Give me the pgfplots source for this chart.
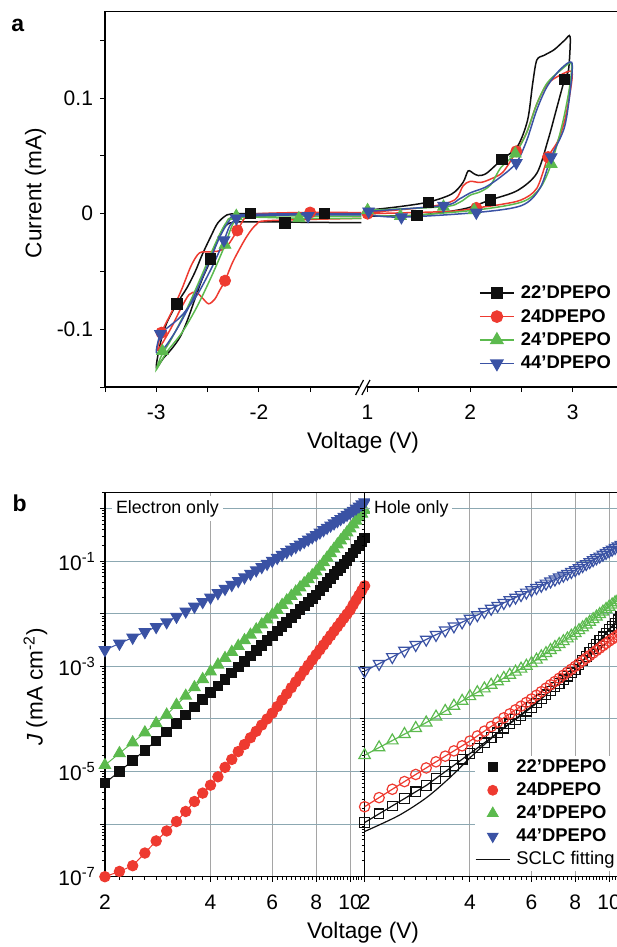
\documentclass[border=0pt]{standalone}
\usepackage{pgfplots}
\pgfplotsset{compat=1.18}
\usepackage{pgfplotstable}
\usepackage{fontspec}
\setmainfont{Liberation Sans}

\definecolor{cblk}{RGB}{15,15,15}
\definecolor{cred}{RGB}{238,58,48}
\definecolor{cgrn}{RGB}{92,186,78}
\definecolor{cblu}{RGB}{58,82,164}
\definecolor{gridx}{RGB}{165,165,165}
\definecolor{gridy}{RGB}{140,168,178}

% J-V data: x = voltage, electron-only (E) and hole-only (H) devices
\pgfplotstableread{
x    BE      RE      GE      BlE     BH      RH      GH      BlH
2.0  6.03e-6 1.00e-7 1.32e-5 2.04e-3 1.07e-6 2.14e-6 2.04e-5 8.13e-4
2.2  1.00e-5 1.26e-7 2.22e-5 2.72e-3 1.57e-6 3.19e-6 2.86e-5 1.12e-3
2.4  1.62e-5 1.62e-7 3.56e-5 3.53e-3 2.22e-6 4.60e-6 3.88e-5 1.51e-3
2.6  2.54e-5 2.82e-7 5.51e-5 4.50e-3 3.06e-6 6.44e-6 5.14e-5 1.99e-3
2.8  3.83e-5 4.79e-7 8.26e-5 5.62e-3 4.12e-6 8.79e-6 6.68e-5 2.56e-3
3.0  5.62e-5 7.41e-7 1.20e-4 6.92e-3 5.42e-6 1.17e-5 8.51e-5 3.24e-3
3.2  8.28e-5 1.12e-6 1.84e-4 8.81e-3 7.41e-6 1.53e-5 1.10e-4 3.98e-3
3.4  1.19e-4 1.74e-6 2.74e-4 1.11e-2 9.95e-6 1.96e-5 1.41e-4 4.83e-3
3.6  1.68e-4 2.69e-6 3.98e-4 1.37e-2 1.31e-5 2.47e-5 1.77e-4 5.79e-3
3.8  2.32e-4 3.89e-6 5.68e-4 1.68e-2 1.71e-5 3.08e-5 2.19e-4 6.90e-3
4.0  3.16e-4 5.50e-6 7.94e-4 2.04e-2 2.19e-5 3.80e-5 2.69e-4 8.13e-3
4.2  4.26e-4 7.94e-6 1.07e-3 2.48e-2 2.79e-5 4.74e-5 3.20e-4 9.44e-3
4.4  5.68e-4 1.20e-5 1.43e-3 2.99e-2 3.52e-5 5.86e-5 3.78e-4 1.09e-2
4.6  7.45e-4 1.70e-5 1.87e-3 3.56e-2 4.40e-5 7.18e-5 4.44e-4 1.25e-2
4.8  9.66e-4 2.40e-5 2.43e-3 4.21e-2 5.43e-5 8.69e-5 5.16e-4 1.42e-2
5.0  1.24e-3 3.27e-5 3.12e-3 4.95e-2 6.67e-5 1.05e-4 5.98e-4 1.61e-2
5.2  1.58e-3 4.39e-5 3.96e-3 5.79e-2 8.11e-5 1.25e-4 6.87e-4 1.82e-2
5.4  1.99e-3 5.82e-5 5.00e-3 6.73e-2 9.79e-5 1.49e-4 7.87e-4 2.04e-2
5.6  2.49e-3 7.66e-5 6.25e-3 7.78e-2 1.17e-4 1.75e-4 8.97e-4 2.28e-2
5.8  3.08e-3 9.98e-5 7.74e-3 8.93e-2 1.40e-4 2.06e-4 1.02e-3 2.54e-2
6.0  3.80e-3 1.29e-4 9.55e-3 0.102   1.66e-4 2.40e-4 1.15e-3 2.82e-2
6.2  4.67e-3 1.72e-4 1.18e-2 0.116   2.00e-4 2.82e-4 1.33e-3 3.11e-2
6.4  5.69e-3 2.29e-4 1.46e-2 0.132   2.40e-4 3.30e-4 1.54e-3 3.43e-2
6.6  6.89e-3 3.00e-4 1.78e-2 0.149   2.87e-4 3.85e-4 1.77e-3 3.77e-2
6.8  8.30e-3 3.92e-4 2.17e-2 0.167   3.41e-4 4.46e-4 2.03e-3 4.12e-2
7.0  9.95e-3 5.06e-4 2.62e-2 0.187   4.04e-4 5.15e-4 2.32e-3 4.50e-2
7.2  1.19e-2 6.50e-4 3.16e-2 0.209   4.74e-4 5.93e-4 2.64e-3 4.91e-2
7.4  1.41e-2 8.30e-4 3.78e-2 0.233   5.56e-4 6.79e-4 2.99e-3 5.33e-2
7.6  1.66e-2 1.05e-3 4.51e-2 0.258   6.47e-4 7.74e-4 3.37e-3 5.78e-2
7.8  1.95e-2 1.32e-3 5.35e-2 0.286   7.53e-4 8.81e-4 3.80e-3 6.25e-2
8.0  2.29e-2 1.66e-3 6.31e-2 0.316   8.71e-4 1.00e-3 4.27e-3 6.76e-2
8.2  2.75e-2 2.06e-3 7.76e-2 0.352   1.06e-3 1.13e-3 4.84e-3 7.41e-2
8.4  3.29e-2 2.55e-3 9.53e-2 0.391   1.28e-3 1.27e-3 5.48e-3 8.11e-2
8.6  3.92e-2 3.13e-3 0.116   0.433   1.53e-3 1.43e-3 6.19e-3 8.85e-2
8.8  4.66e-2 3.83e-3 0.141   0.478   1.84e-3 1.60e-3 6.98e-3 9.64e-2
9.0  5.50e-2 4.66e-3 0.171   0.526   2.19e-3 1.79e-3 7.83e-3 0.105
9.2  6.47e-2 5.65e-3 0.206   0.579   2.61e-3 2.00e-3 8.77e-3 0.114
9.4  7.59e-2 6.82e-3 0.247   0.635   3.08e-3 2.22e-3 9.79e-3 0.123
9.6  8.87e-2 8.22e-3 0.295   0.697   3.64e-3 2.47e-3 1.09e-2 0.133
9.8  0.1035  9.84e-3 0.351   0.762   4.28e-3 2.73e-3 1.22e-2 0.144
10.0 0.120   1.17e-2 0.417   0.832   5.01e-3 3.02e-3 1.35e-2 0.155
10.2 0.143   1.47e-2 0.493   0.914   5.78e-3 3.30e-3 1.49e-2 0.166
10.4 0.169   1.82e-2 0.581   1.005   6.65e-3 3.61e-3 1.64e-2 0.179
10.6 0.200   2.24e-2 0.682   1.102   7.64e-3 3.94e-3 1.81e-2 0.191
10.8 0.235   2.76e-2 0.798   1.205   8.75e-3 4.30e-3 1.99e-2 0.205
11.0 0.275   3.39e-2 0.933   1.318   1.00e-2 4.68e-3 2.19e-2 0.219
}\jvdata

\pgfplotstableread{
x    J
2.0  7.24e-7
2.5  1.45e-6
3.0  3.16e-6
3.5  7.59e-6
4.0  1.82e-5
4.5  3.72e-5
5.0  6.76e-5
6.0  1.74e-4
7.0  4.07e-4
8.0  8.71e-4
9.0  2.14e-3
10.0 5.01e-3
11.0 1.00e-2
}\sclcfit

\pgfplotsset{
  cvline/.style={smooth, tension=0.5, line width=0.75pt, no marks},
  cvmark/.style={only marks, forget plot},
  jvaxis/.style={
    anchor=south west, scale only axis, height=192pt,
    xmin=2, xmax=11, ymin=1e-7, ymax=2,
    xtick={2,4,6,8,10}, xticklabels={2,4,6,8,10},
    minor xtick={2.2,2.4,...,10.8},
    ytick={1e-7,1e-6,1e-5,1e-4,1e-3,1e-2,1e-1,1},
    minor ytick={2e-7,3e-7,4e-7,5e-7,6e-7,7e-7,8e-7,9e-7,
      2e-6,3e-6,4e-6,5e-6,6e-6,7e-6,8e-6,9e-6,
      2e-5,3e-5,4e-5,5e-5,6e-5,7e-5,8e-5,9e-5,
      2e-4,3e-4,4e-4,5e-4,6e-4,7e-4,8e-4,9e-4,
      2e-3,3e-3,4e-3,5e-3,6e-3,7e-3,8e-3,9e-3,
      2e-2,3e-2,4e-2,5e-2,6e-2,7e-2,8e-2,9e-2,
      2e-1,3e-1,4e-1,5e-1,6e-1,7e-1,8e-1,9e-1,2},
    xtick pos=left, ytick pos=left, tick align=outside,
    major tick length=2.5pt, minor tick length=1.5pt,
    xmajorgrids, ymajorgrids,
    x grid style={gridx, line width=0.5pt},
    y grid style={gridy, line width=0.5pt},
    axis line style={line width=0.6pt},
    tick style={line width=0.5pt, black},
    tick label style={font=\fontsize{10.5}{12}\selectfont},
    xticklabel style={yshift=-3pt},
  },
}

\begin{document}
\begin{tikzpicture}
\path[use as bounding box] (0pt,0pt) rectangle (308pt,-473.5pt);

% ---------------- panel a: cyclic voltammetry ----------------
\begin{axis}[
  at={(52.5pt,-193.5pt)}, anchor=south west, scale only axis,
  width=259.5pt, height=187.75pt,
  xmin=-3.5, xmax=1.56, ymin=-0.15, ymax=0.175,
  xtick={-3,-2,-0.94,0.06,1.06}, xticklabels={-3,-2,1,2,3},
  minor xtick={-3.5,-2.5,-1.5,-0.44,0.56},
  ytick={-0.1,0,0.1}, yticklabels={-0.1,0,0.1},
  minor ytick={-0.15,-0.05,0.05,0.15},
  xtick pos=left, ytick pos=left, tick align=outside,
  major tick length=2.5pt, minor tick length=2.5pt,
  axis line style={line width=0.6pt},
  tick style={line width=0.5pt, black},
  tick label style={font=\fontsize{10.5}{12}\selectfont},
  xticklabel style={yshift=-3pt},
  legend cell align=left,
  legend style={at={(axis description cs:0.72,0.282)}, anchor=north west,
    draw=none, fill=none, inner sep=0pt, row sep=0pt, column sep=1.5pt,
    font=\fontsize{9.2}{11}\selectfont\bfseries,
    nodes={inner sep=1.6pt, text height=7pt, text depth=1.5pt}},
]
\addlegendimage{cblk, line width=0.75pt, mark=square*, mark size=2.6pt}
\addlegendentry{22’DPEPO}
\addlegendimage{cred, line width=0.75pt, mark=*, mark size=2.8pt}
\addlegendentry{24DPEPO}
\addlegendimage{cgrn, line width=0.75pt, mark=triangle*, mark size=3.4pt}
\addlegendentry{24’DPEPO}
\addlegendimage{cblu, line width=0.75pt, mark=triangle*, mark size=3.4pt, mark options={rotate=180}}
\addlegendentry{44’DPEPO}

% 22'DPEPO
\addplot[cblk, cvline, forget plot] coordinates {
(-1.0,0.0) (-1.6,0.0) (-2.1,0.0) (-2.22,0.0) (-2.31,-0.001) (-2.40,-0.008)
(-2.47,-0.020) (-2.55,-0.035) (-2.62,-0.050) (-2.70,-0.064) (-2.80,-0.078)
(-2.90,-0.095) (-2.96,-0.112) (-3.0,-0.133) (-2.93,-0.125) (-2.85,-0.117)
(-2.77,-0.107) (-2.70,-0.093) (-2.62,-0.073) (-2.55,-0.056) (-2.47,-0.040)
(-2.40,-0.022) (-2.33,-0.011) (-2.25,-0.0075) (-2.0,-0.007) (-1.5,-0.0075) (-1.0,-0.0078)};
\addplot[cblk, cvline, forget plot, x filter/.expression={x-1.94}] coordinates {
(1.0,0.003) (1.3,0.006) (1.59,0.010) (1.82,0.017) (1.93,0.027) (1.98,0.037)
(2.03,0.035) (2.08,0.033) (2.16,0.035) (2.31,0.047) (2.46,0.058) (2.56,0.081)
(2.61,0.113) (2.65,0.133) (2.72,0.137) (2.82,0.142) (2.92,0.150) (2.975,0.153)
(2.96,0.125) (2.92,0.116) (2.84,0.090) (2.76,0.064) (2.65,0.035) (2.46,0.020)
(2.20,0.012) (1.93,0.004) (1.48,-0.0014) (1.0,-0.002)};
\addplot[cblk, cvmark, mark=square*, mark size=2.6pt] coordinates {
(-2.80,-0.078) (-2.47,-0.039) (-2.08,0.0) (-1.745,-0.008) (-1.36,0.0)};
\addplot[cblk, cvmark, mark=square*, mark size=2.6pt, x filter/.expression={x-1.94}] coordinates {
(1.59,0.010) (1.48,-0.0014) (2.31,0.047) (2.20,0.012) (2.92,0.116)};

% 24DPEPO
\addplot[cred, cvline, forget plot] coordinates {
(-1.0,0.001) (-1.6,0.001) (-2.0,0.0) (-2.12,-0.002) (-2.21,-0.0145) (-2.30,-0.027)
(-2.38,-0.032) (-2.48,-0.033) (-2.58,-0.034) (-2.66,-0.045) (-2.75,-0.065)
(-2.85,-0.085) (-2.95,-0.103) (-2.99,-0.118) (-2.94,-0.112) (-2.85,-0.098)
(-2.76,-0.082) (-2.68,-0.070) (-2.61,-0.068) (-2.55,-0.073) (-2.49,-0.078)
(-2.43,-0.074) (-2.38,-0.066) (-2.33,-0.058) (-2.25,-0.041) (-2.12,-0.020)
(-2.02,-0.009) (-1.9,-0.006) (-1.0,-0.004)};
\addplot[cred, cvline, forget plot, x filter/.expression={x-1.94}] coordinates {
(1.0,0.001) (1.6,0.006) (1.85,0.012) (1.93,0.024) (2.0,0.028) (2.1,0.027)
(2.2,0.030) (2.32,0.036) (2.45,0.054) (2.55,0.070) (2.65,0.095) (2.75,0.112)
(2.88,0.120) (2.99,0.123) (2.98,0.108) (2.92,0.080) (2.85,0.062) (2.76,0.049)
(2.65,0.022) (2.5,0.012) (2.3,0.008) (2.06,0.005) (1.8,0.002) (1.0,0.0)};
\addplot[cred, cvmark, mark=*, mark size=2.8pt] coordinates {
(-2.95,-0.103) (-2.33,-0.058) (-2.21,-0.0145) (-1.50,0.001)};
\addplot[cred, cvmark, mark=*, mark size=2.8pt, x filter/.expression={x-1.94}] coordinates {
(1.0,0.0) (2.45,0.054) (2.06,0.005) (2.76,0.049)};

% 24'DPEPO
\addplot[cgrn, cvline, forget plot] coordinates {
(-1.0,-0.002) (-1.6,-0.002) (-2.1,-0.002) (-2.2,-0.003) (-2.26,-0.010) (-2.33,-0.027)
(-2.45,-0.052) (-2.6,-0.080) (-2.75,-0.103) (-2.9,-0.120) (-3.0,-0.135)
(-2.95,-0.123) (-2.85,-0.108) (-2.7,-0.082) (-2.55,-0.052) (-2.43,-0.027)
(-2.32,-0.008) (-2.22,-0.003) (-1.6,-0.004) (-1.0,-0.004)};
\addplot[cgrn, cvline, forget plot, x filter/.expression={x-1.94}] coordinates {
(1.0,0.003) (1.74,0.006) (1.9,0.010) (2.0,0.016) (2.1,0.019) (2.2,0.025)
(2.3,0.040) (2.44,0.052) (2.55,0.070) (2.65,0.095) (2.75,0.113) (2.88,0.124)
(2.985,0.130) (2.97,0.110) (2.9,0.078) (2.79,0.043) (2.68,0.022) (2.5,0.010)
(2.04,0.003) (1.32,-0.002) (1.0,-0.001)};
\addplot[cgrn, cvmark, mark=triangle*, mark size=3.4pt] coordinates {
(-2.94,-0.119) (-2.33,-0.027) (-2.22,-0.002) (-1.61,-0.004)};
\addplot[cgrn, cvmark, mark=triangle*, mark size=3.4pt, x filter/.expression={x-1.94}] coordinates {
(1.0,0.003) (1.32,-0.002) (1.74,0.006) (2.44,0.052) (2.79,0.043) (2.04,0.003)};

% 44'DPEPO
\addplot[cblu, cvline, forget plot] coordinates {
(-1.0,-0.001) (-1.6,-0.001) (-2.1,-0.002) (-2.2,-0.003) (-2.28,-0.010) (-2.34,-0.023)
(-2.45,-0.045) (-2.6,-0.070) (-2.75,-0.088) (-2.88,-0.098) (-2.96,-0.104)
(-3.0,-0.120) (-2.93,-0.117) (-2.8,-0.100) (-2.65,-0.075) (-2.5,-0.045)
(-2.38,-0.020) (-2.28,-0.005) (-2.2,-0.001) (-1.6,0.0) (-1.0,0.0)};
\addplot[cblu, cvline, forget plot, x filter/.expression={x-1.94}] coordinates {
(1.0,0.002) (1.74,0.007) (1.9,0.013) (2.0,0.018) (2.15,0.023) (2.3,0.032)
(2.45,0.044) (2.55,0.063) (2.65,0.090) (2.75,0.110) (2.88,0.125) (2.99,0.131)
(2.98,0.110) (2.92,0.075) (2.79,0.049) (2.68,0.022) (2.5,0.007) (2.06,0.001)
(1.33,-0.003) (1.0,-0.001)};
\addplot[cblu, cvmark, mark=triangle*, mark size=3.4pt, mark options={rotate=180}] coordinates {
(-2.96,-0.104) (-2.34,-0.023) (-2.22,-0.004) (-1.52,-0.002)};
\addplot[cblu, cvmark, mark=triangle*, mark size=3.4pt, mark options={rotate=180}, x filter/.expression={x-1.94}] coordinates {
(1.01,0.002) (1.33,-0.003) (1.74,0.007) (2.45,0.044) (2.79,0.049) (2.06,0.001)};
\end{axis}

% axis break on the voltage axis
\fill[white] (179.6pt,-195pt) rectangle (183.3pt,-192pt);
\draw[line width=0.6pt] (177.8pt,-197.5pt) -- (181.75pt,-190pt);
\draw[line width=0.6pt] (180.9pt,-197.5pt) -- (185.0pt,-190pt);

% ---------------- panel b: electron only ----------------
\begin{loglogaxis}[jvaxis,
  at={(52.45pt,-438.35pt)}, width=129.85pt,
  yticklabels={10\textsuperscript{-7},,10\textsuperscript{-5},,10\textsuperscript{-3},,10\textsuperscript{-1},},
  yticklabel style={xshift=1.5pt},
]
\addplot[cblk, line width=0.5pt, mark=square*, mark size=2.4pt] table[x=x, y=BE] {\jvdata};
\addplot[cred, line width=0.5pt, mark=*, mark size=2.6pt] table[x=x, y=RE] {\jvdata};
\addplot[cgrn, line width=0.5pt, mark=triangle*, mark size=3.3pt] table[x=x, y=GE] {\jvdata};
\addplot[cblu, line width=0.5pt, mark=triangle*, mark size=3.3pt, mark options={rotate=180}] table[x=x, y=BlE] {\jvdata};
\node[anchor=west, fill=white, inner sep=2pt, font=\fontsize{8.9}{10}\selectfont] at (axis cs:2.09,1) {Electron only};
\end{loglogaxis}

% ---------------- panel b: hole only ----------------
\begin{loglogaxis}[jvaxis,
  at={(182.3pt,-438.35pt)}, width=129.5pt,
  yticklabels={},
  legend cell align=left,
  legend style={at={(axis description cs:0.425,0.316)}, anchor=north west,
    draw=none, fill=white, inner sep=0pt, row sep=0pt, column sep=1.5pt,
    font=\fontsize{9.2}{11}\selectfont,
    nodes={inner sep=1.5pt, text height=7pt, text depth=1.5pt}},
]
\addplot[cblk, line width=0.6pt, mark=square, mark size=2.4pt, forget plot] table[x=x, y=BH] {\jvdata};
\addplot[cred, line width=0.6pt, mark=o, mark size=2.6pt, forget plot] table[x=x, y=RH] {\jvdata};
\addplot[cgrn, line width=0.6pt, mark=triangle, mark size=3.3pt, forget plot] table[x=x, y=GH] {\jvdata};
\addplot[cblu, line width=0.6pt, mark=triangle, mark size=3.3pt, mark options={rotate=180}, forget plot] table[x=x, y=BlH] {\jvdata};
\addplot[cblk, line width=0.6pt, no marks, smooth, forget plot] table[x=x, y=J] {\sclcfit};
\addlegendimage{only marks, cblk, mark=square*, mark size=2.3pt}
\addlegendentry{\textbf{22’DPEPO}}
\addlegendimage{only marks, cred, mark=*, mark size=2.5pt}
\addlegendentry{\textbf{24DPEPO}}
\addlegendimage{only marks, cgrn, mark=triangle*, mark size=3.1pt}
\addlegendentry{\textbf{24’DPEPO}}
\addlegendimage{only marks, cblu, mark=triangle*, mark size=3.1pt, mark options={rotate=180}}
\addlegendentry{\textbf{44’DPEPO}}
\addlegendimage{cblk, line width=0.6pt, no marks}
\addlegendentry{SCLC fitting}
\node[anchor=west, fill=white, inner sep=2pt, font=\fontsize{8.9}{10}\selectfont] at (axis cs:2.07,1) {Hole only};
\end{loglogaxis}

% labels
\node[font=\fontsize{11.5}{12}\selectfont\bfseries] at (8.85pt,-12.5pt) {a};
\node[font=\fontsize{11.5}{12}\selectfont\bfseries] at (9.8pt,-251.5pt) {b};
\node[rotate=90, font=\fontsize{11.3}{13}\selectfont] at (17.7pt,-96.5pt) {Current (mA)};
\node[font=\fontsize{11.3}{13}\selectfont] at (181.5pt,-221.5pt) {Voltage (V)};
\node[rotate=90, font=\fontsize{11.3}{13}\selectfont] at (17.7pt,-343.4pt) {\textit{J} (mA cm\textsuperscript{-2})};
\node[font=\fontsize{11.3}{13}\selectfont] at (181.5pt,-466.5pt) {Voltage (V)};
\end{tikzpicture}
\end{document}
